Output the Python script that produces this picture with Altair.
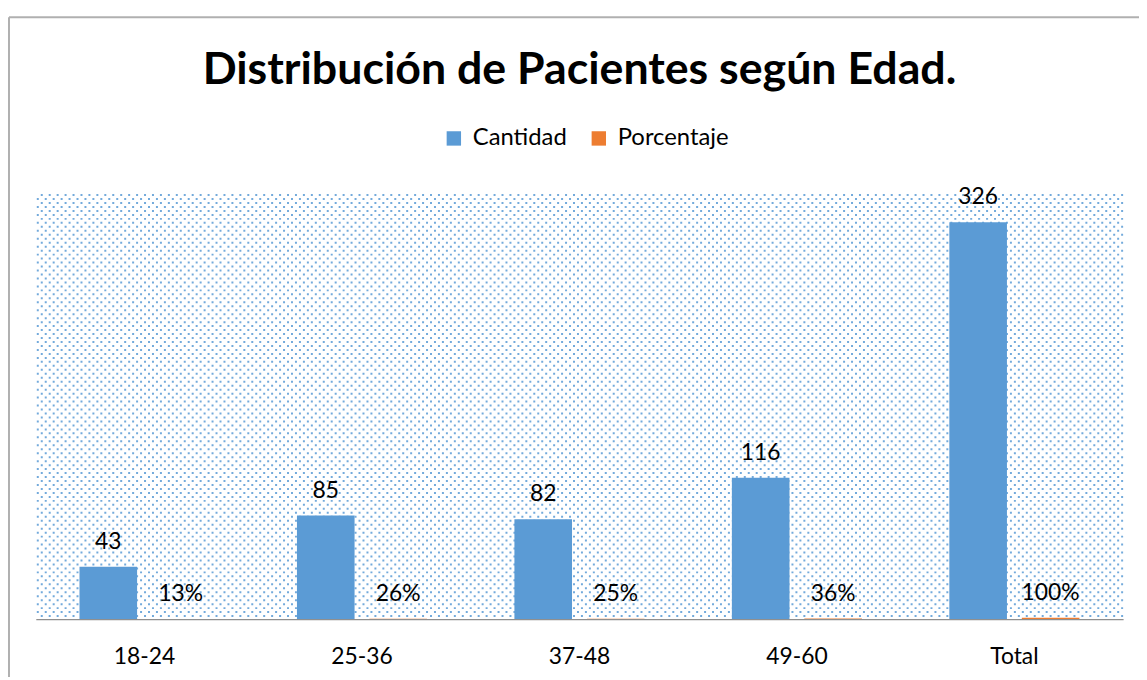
import altair as alt
import pandas as pd

categorias = ["18-24", "25-36", "37-48", "49-60", "Total"]
cantidad = [43, 85, 82, 116, 326]
porcentaje = [13, 26, 25, 36, 100]  # percent
series = ["Cantidad", "Porcentaje"]
colores = ["#5b9bd5", "#ed7d31"]
titulo = "Distribución de Pacientes según Edad."

rows = []
for c, q, p in zip(categorias, cantidad, porcentaje):
    rows.append({"cat": c, "serie": "Cantidad", "valor": q, "label": str(q)})
    rows.append({"cat": c, "serie": "Porcentaje", "valor": p / 100, "label": f"{p}%"})
df = pd.DataFrame(rows)

W, H = 1095, 429
FONT = "Lato"
ROW = 4
NROWS = H // ROW

xenc = alt.X("cat:N", sort=categorias,
             scale=alt.Scale(paddingInner=0, paddingOuter=0),
             axis=alt.Axis(title=None, labelAngle=0, ticks=False, labelFontSize=23,
                           labelFont=FONT, labelColor="#000000", labelPadding=27,
                           domainColor="#8f8f8f", domainWidth=1.2, grid=False))
xoff = alt.XOffset("serie:N", sort=series,
                   scale=alt.Scale(paddingInner=0.205, paddingOuter=0.6027))
yenc = alt.Y("valor:Q", scale=alt.Scale(domain=[0, 350], nice=False), axis=None)

# chart frame (decoration)
one = pd.DataFrame({"k": [0]})
frame_left = alt.Chart(one).mark_rule(color="#b0b0b0", strokeWidth=2, clip=False).encode(
    x=alt.value(-27), y=alt.value(-177), y2=alt.value(600))
frame_top = alt.Chart(one).mark_rule(color="#b0b0b0", strokeWidth=2, clip=False).encode(
    y=alt.value(-177), x=alt.value(-27), x2=alt.value(1200))

# dotted background pattern
seq = alt.sequence(0, NROWS, as_="i")
def pattern(parity, offset):
    return alt.Chart(seq).transform_filter(
        f"datum.i % 2 == {parity}"
    ).transform_calculate(
        yy=f"350 - (datum.i * {ROW} + 2) * 350 / {H}"
    ).mark_rule(
        color="#5b9bd5", strokeWidth=2, strokeDash=[2, 6], strokeDashOffset=offset, opacity=0.85
    ).encode(y=alt.Y("yy:Q", scale=alt.Scale(domain=[0, 350], nice=False), axis=None))

bars = alt.Chart(df).mark_bar().encode(
    x=xenc, xOffset=xoff, y=yenc,
    color=alt.Color("serie:N", sort=series,
                    scale=alt.Scale(domain=series, range=colores),
                    legend=alt.Legend(title=None, orient="none", direction="horizontal",
                                      legendX=409, legendY=-67, symbolType="square",
                                      symbolSize=210, symbolStrokeWidth=0,
                                      labelFontSize=24, labelFont=FONT, labelColor="#000000",
                                      columnPadding=20, labelOffset=7))
)

texts = alt.Chart(df).mark_text(
    baseline="middle", dy=-25, fontSize=23, font=FONT, color="#000000"
).encode(x=xenc, xOffset=xoff, y=yenc, text="label:N")

chart = alt.layer(frame_left, frame_top, pattern(0, 0), pattern(1, 4), bars, texts).properties(
    width=W, height=H,
    autosize=alt.AutoSizeParams(type="none"),
    padding={"left": 28, "top": 184, "right": 16, "bottom": 56},
    title=alt.TitleParams(titulo, fontSize=45, font=FONT, fontWeight="bold",
                          anchor="middle", color="#000000", offset=0,
                          baseline="bottom", dy=122),
).configure_view(stroke=None)

chart.save("out.html", embed_options={"renderer": "svg", "actions": False})
